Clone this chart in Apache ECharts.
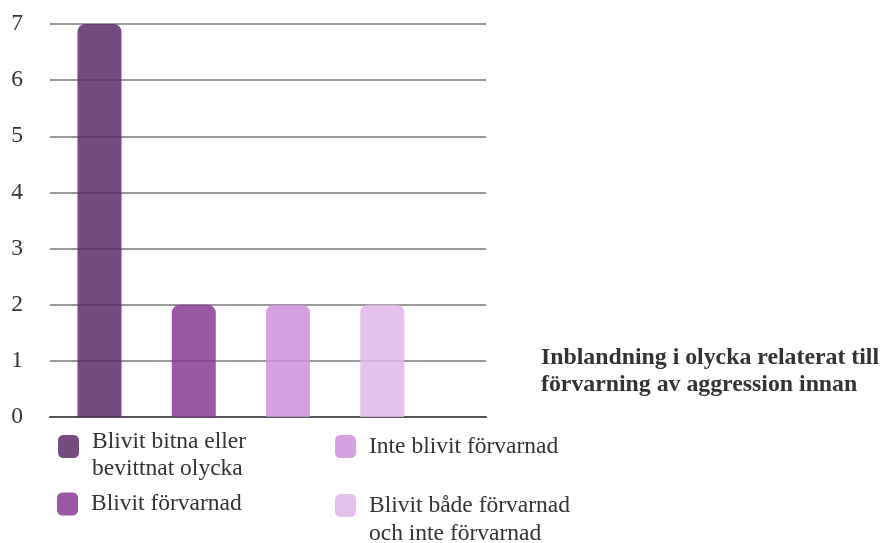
<!DOCTYPE html>
<html>
<head>
<meta charset="utf-8">
<script src="https://cdn.jsdelivr.net/npm/echarts@6/dist/echarts.min.js"></script>
<style>
html,body{margin:0;padding:0;background:#fff;}
#chart{width:881px;height:543px;}
</style>
</head>
<body>
<div id="chart"></div>
<script>
const categories = ['Blivit bitna eller\nbevittnat olycka', 'Blivit förvarnad', 'Inte blivit förvarnad', 'Blivit både förvarnad\noch inte förvarnad'];
const values = [7, 2, 2, 2];
const positions = [1, 2, 3, 4];
const colors = ['#5E2C68', '#883993', '#CE90DC', '#DEB6E8'];
const titleText = 'Inblandning i olycka relaterat till\nförvarning av aggression innan';

const FONT = '"Liberation Serif", "Times New Roman", serif';

const series = categories.map((name, i) => ({
  name: name,
  type: 'bar',
  barWidth: 44,
  barGap: '-100%',
  data: [[positions[i], values[i]]],
  itemStyle: { color: colors[i], opacity: 0.85, borderRadius: [8, 8, 0, 0] }
}));

// per-item legend placement: left, top, height of an empty spacer line above the text, line height
const legendLayout = [
  { left: 58, top: 414.5, spacer: 17, lh: 27 },
  { left: 57, top: 492, spacer: 0, lh: 27 },
  { left: 335, top: 434.5, spacer: 0, lh: 27 },
  { left: 335, top: 472.5, spacer: 28, lh: 28 }
];

const legends = categories.map((name, i) => {
  const L = legendLayout[i];
  const lines = name.split('\n').map(s => '{a|' + s + '}');
  const fmt = (L.spacer ? '{e| }\n' : '') + lines.join('\n');
  return {
    data: [name],
    left: L.left,
    top: L.top,
    padding: 0,
    itemWidth: 21,
    itemHeight: 23,
    icon: 'roundRect',
    selectedMode: false,
    formatter: () => fmt,
    textStyle: {
      padding: [0, 0, 0, 8],
      rich: {
        a: { fontFamily: FONT, fontSize: 23.5, color: '#333', lineHeight: L.lh },
        e: { fontFamily: FONT, fontSize: 10, lineHeight: L.spacer || 1 }
      }
    }
  };
});

const chart = echarts.init(document.getElementById('chart'));
chart.setOption({
  animation: false,
  title: {
    text: titleText,
    left: 541, top: 344, padding: 0,
    textStyle: { fontFamily: FONT, fontSize: 23.8, fontWeight: 'bold', color: '#333', lineHeight: 27.5 }
  },
  legend: legends,
  grid: { left: 50, right: 395, top: 24, bottom: 126, containLabel: false },
  xAxis: {
    type: 'value',
    min: 0.475, max: 5.1,
    axisLine: { show: true, onZero: false, lineStyle: { color: '#555', width: 2 } },
    axisTick: { show: false },
    axisLabel: { show: false },
    splitLine: { show: false }
  },
  yAxis: {
    type: 'value',
    min: 0, max: 7, interval: 1,
    axisLine: { show: false },
    axisTick: { show: false },
    axisLabel: { fontFamily: FONT, fontSize: 23.5, color: '#333', margin: 27 },
    splitLine: { lineStyle: { color: '#999', width: 2 } }
  },
  series: series
});
</script>
</body>
</html>
